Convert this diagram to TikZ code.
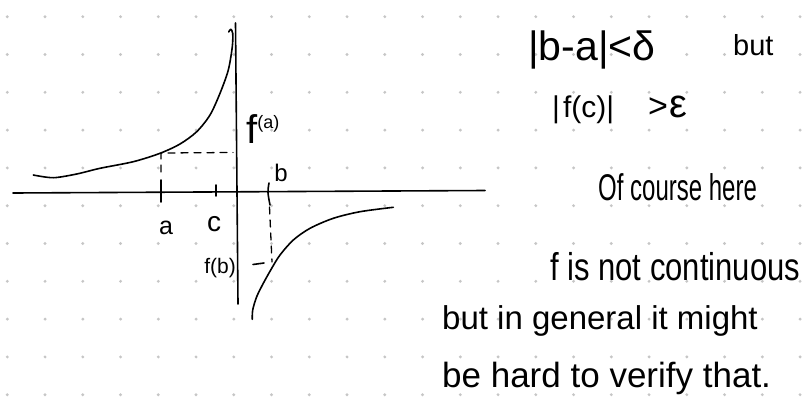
\documentclass[tikz,border=0pt]{standalone}
\usepackage{fontspec}
\usepackage{graphicx}
\setmainfont{Liberation Sans}
\newcommand{\fs}[1]{\fontsize{#1}{#1}\selectfont}

\begin{document}
\begin{tikzpicture}[x=1pt, y=-1pt,
  pen/.style={line width=1.6pt, line cap=round, line join=round},
  guide/.style={pen, line width=1.3pt, dash pattern=on 7pt off 6pt},
  note/.style={anchor=base west, inner sep=0pt},
  lbl/.style={inner sep=0pt}]
\useasboundingbox[fill=white] (0,0) rectangle (802,407);
\foreach \i in {0,...,21} \foreach \j in {0,...,10}
  \fill[gray!45] (7.3+37.75*\i, 16.7+37.8*\j) circle (1.6);

\draw[pen] (13,193) -- (485,190.5);
\draw[pen] (235.5,23) -- (238,304);

% left branch, blows up at the axis
\draw[pen] plot[smooth] coordinates {(33.3,175) (53.3,177.7) (76.7,174) (100,168.3) (133.3,161.7) (160,153.3) (180,144) (196.7,131.7) (210,115) (220,93.3) (228.3,70) (232.3,46.7) (232.7,33.3) (230.7,29.3) (228.7,32)};
\draw[pen] plot[smooth] coordinates {(252.3,319.3) (252.7,310) (256.7,296.7) (263.3,283.3) (271.7,268.3) (280,255) (293.3,240) (310,228.3) (333.3,218.3) (360,211.7) (393.3,207.3)};

\draw[pen] (161,180) -- (161,202);
\draw[pen] (215.7,185) -- (215.7,196);
\draw[pen] (269,183) .. controls (267.5,192) .. (270,205);
\draw[guide] (161,172) -- (161,153) -- (233,152.5);
\draw[guide] (269.5,207) -- (272,262);
\draw[pen] (253,264.5) -- (264,263);

\node[lbl] (a) at (166,228) {\fs{25}a};
\node[lbl] (c) at (214,224) {\fs{28}c};
\node[lbl] (b) at (281,173) {\fs{24}b};
\node[note] (fa) at (246,143) {\fs{40}f\raisebox{15pt}{\fs{18}(a)}};
\node[lbl] (fb) at (220,268) {\fs{21}f(b)};

\node[note] (delta) at (528,60) {\fs{41}|b-a|<δ};
\node[note] (but) at (733,55) {\fs{29}but};
\node[note] (eps) at (552,117) {\fs{30}|\hspace{3pt}f(c)|\hspace{34pt}{\fs{34}>}\hspace{2pt}{\fs{40}ε}};
\node[note] (course) at (598,200) {\fs{24}\scalebox{1}[1.55]{Of course here}};
\node[note] (notcont) at (550,280) {\fs{31}\scalebox{1}[1.25]{f is not continuous}};
\node[note] (general) at (442,329) {\fs{33}but in general it might};
\node[note] (verify) at (442,387) {\fs{35}be hard to verify that.};
\end{tikzpicture}
\end{document}
